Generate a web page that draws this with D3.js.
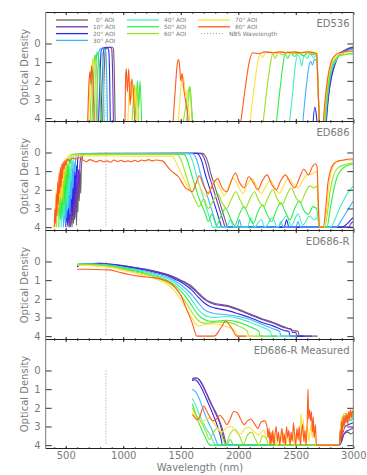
<!DOCTYPE html>
<html>
<head>
<meta charset="utf-8">
<script src="https://cdn.jsdelivr.net/npm/d3@7"></script>
<style>
body { margin: 0; background: #fff; }
text { font-family: "DejaVu Sans", sans-serif; fill: #7a7a7a; }
</style>
</head>
<body>
<script>
var angles = [0, 10, 20, 30, 40, 50, 60, 70, 80];
var colors = ["#666666", "#7a2fbf", "#2b2be6", "#3fb2ff", "#44ecc6", "#2cf044", "#9ee022", "#ffe03c", "#ff5a1e"];
var panelNames = ["ED536", "ED686", "ED686-R", "ED686-R Measured"];
var xMajor = [500, 1000, 1500, 2000, 2500, 3000];
var xMinor = d3.range(400, 3001, 100);
var yTicks = [0, 1, 2, 3, 4];
var nbsWavelength = 850;

// [wavelength nm, optical density]; null = gap
var ed536 = [
  [[820,4.3],[832,2.0],[842,0.5],[852,0.22],[905,0.2],[915,0.3],[922,1.4],[930,4.3],null,
   [2765,4.3],[2778,3.3],[2792,2.5],[2808,1.9],[2830,1.35],[2858,0.85],[2886,0.55],[2915,0.4],[2945,0.3],[2975,0.22],[3000,0.18]],
  [[805,4.3],[817,2.0],[827,0.5],[837,0.22],[890,0.2],[900,0.32],[907,1.4],[915,4.3],null,
   [2762,4.3],[2775,3.3],[2790,2.5],[2806,1.9],[2828,1.35],[2856,0.85],[2884,0.55],[2915,0.42],[2945,0.32],[2975,0.25],[3000,0.2]],
  [[785,4.3],[797,2.0],[807,0.5],[817,0.25],[865,0.24],[874,0.4],[881,1.5],[888,4.3],null,
   [2650,4.3],[2665,3.4],[2678,3.8],[2686,4.3],null,
   [2760,4.3],[2773,3.3],[2788,2.5],[2804,1.9],[2826,1.3],[2854,0.85],[2882,0.55],[2912,0.42],[2945,0.35],[2975,0.28],[3000,0.25]],
  [[765,4.3],[777,2.0],[787,0.55],[797,0.3],[840,0.3],[849,0.5],[856,1.7],[864,4.3],null,
   [2560,4.3],[2588,2.5],[2612,1.3],[2628,0.95],[2645,1.15],[2662,0.85],[2682,0.9],[2692,2.2],[2705,4.3],null,
   [2758,4.3],[2772,3.2],[2786,2.4],[2802,1.8],[2825,1.25],[2852,0.85],[2880,0.6],[2910,0.45],[2945,0.38],[2975,0.3],[3000,0.3]],
  [[745,4.3],[757,2.2],[766,0.75],[774,0.45],[781,0.6],[789,0.4],[812,0.45],[821,0.8],[828,2.0],[836,4.3],null,
   [2445,4.3],[2475,2.5],[2500,1.0],[2515,0.6],[2535,0.8],[2552,1.2],[2570,0.65],[2600,0.8],[2625,0.55],[2655,0.75],[2682,0.6],[2692,2.0],[2705,4.3],null,
   [2755,4.3],[2770,3.1],[2785,2.3],[2800,1.4],[2815,0.95],[2835,1.05],[2860,0.8],[2890,0.6],[2920,0.5],[2960,0.42],[3000,0.4]],
  [[728,4.3],[740,2.2],[749,0.9],[756,0.6],[764,0.9],[772,0.55],[785,0.7],[794,1.2],[800,2.5],[806,4.3],null,
   [1100,4.3],[1112,3.1],[1124,2.0],[1134,3.5],[1146,2.0],[1160,4.3],null,
   [1550,4.3],[1568,3.0],[1580,2.3],[1592,3.2],[1605,4.3],null,
   [2330,4.3],[2362,2.5],[2392,1.0],[2408,0.55],[2430,0.8],[2455,0.5],[2490,0.7],[2520,0.5],[2565,0.65],[2610,0.5],[2650,0.6],[2682,0.55],[2692,2.0],[2705,4.3],null,
   [2750,4.3],[2766,3.1],[2782,2.3],[2800,1.6],[2822,1.1],[2850,0.8],[2880,0.65],[2920,0.6],[2960,0.55],[3000,0.55]],
  [[712,4.3],[722,2.4],[730,1.3],[738,0.8],[746,1.2],[754,0.75],[764,1.0],[772,1.8],[778,4.3],null,
   [1075,4.3],[1088,3.0],[1100,2.2],[1110,3.4],[1122,2.3],[1132,4.3],null,
   [1520,4.3],[1545,3.3],[1560,2.7],[1575,2.35],[1588,3.0],[1600,4.3],null,
   [2215,4.3],[2248,2.5],[2282,1.0],[2298,0.55],[2322,0.8],[2345,0.5],[2390,0.6],[2430,0.45],[2480,0.55],[2540,0.5],[2600,0.5],[2650,0.55],[2682,0.5],[2692,2.0],[2705,4.3],null,
   [2748,4.3],[2764,3.0],[2780,2.2],[2798,1.5],[2820,1.05],[2850,0.8],[2880,0.65],[2920,0.6],[2960,0.58],[3000,0.55]],
  [[700,4.3],[708,2.5],[716,1.5],[724,1.2],[732,1.6],[740,0.9],[748,1.3],[756,2.2],[762,4.3],null,
   [1040,4.3],[1050,2.8],[1062,2.0],[1072,3.0],[1085,2.2],[1098,3.5],[1108,2.4],[1118,4.3],null,
   [1478,4.3],[1498,2.6],[1512,1.85],[1524,1.8],[1535,2.4],[1546,2.8],[1556,2.5],[1570,3.6],[1582,4.3],null,
   [2100,4.3],[2135,2.5],[2170,1.0],[2190,0.55],[2212,0.75],[2235,0.5],[2280,0.45],[2330,0.55],[2390,0.45],[2450,0.52],[2510,0.45],[2570,0.5],[2630,0.45],[2682,0.5],[2692,2.0],[2705,4.3],null,
   [2742,4.3],[2758,3.0],[2775,2.1],[2795,1.4],[2815,0.95],[2845,0.7],[2880,0.55],[2920,0.5],[2960,0.45],[3000,0.45]],
  [[690,4.3],[698,2.7],[705,1.8],[712,1.5],[719,2.2],[726,1.2],[734,1.7],[741,2.8],[748,4.3],null,
   [1015,4.3],[1022,1.6],[1027,1.35],[1036,2.6],[1048,1.35],[1060,3.3],[1075,1.9],[1090,2.8],[1100,4.3],null,
   [1432,4.3],[1452,2.5],[1468,1.2],[1480,0.85],[1490,1.2],[1500,2.0],[1512,1.6],[1525,2.4],[1540,3.0],[1555,3.6],[1568,4.3],null,
   [2020,4.3],[2058,2.5],[2095,1.0],[2125,0.5],[2180,0.55],[2230,0.45],[2300,0.5],[2360,0.45],[2420,0.5],[2480,0.45],[2540,0.5],[2600,0.45],[2660,0.5],[2682,0.55],[2692,2.0],[2705,4.3],null,
   [2738,4.3],[2755,3.0],[2772,2.1],[2792,1.35],[2812,0.9],[2840,0.65],[2875,0.5],[2920,0.45],[2960,0.4],[3000,0.4]]
];

var ed686 = [
  [[540,4],[548,3.4],[555,4],[562,2.9],[568,3.8],[575,2.4],[581,3.5],[588,2.0],[594,3.9],[600,1.8],[606,3.2],[612,1.4],[618,2.6],[624,1.0],[630,2.2],[636,0.8],[642,0.4],[650,0.15],[665,0.06],[800,0.05],[1200,0.05],[1690,0.05],[1710,0.15],[1735,0.5],[1760,1.1],[1790,1.7],[1820,2.3],[1850,2.9],[1875,3.4],[1895,3.8],[1905,4],[3000,4]],
  [[520,4],[528,3.2],[535,4],[542,2.7],[549,3.7],[556,2.2],[563,3.4],[570,1.8],[576,3.6],[583,1.5],[590,3.0],[597,1.2],[604,2.4],[611,0.9],[618,1.8],[624,0.6],[630,0.3],[640,0.1],[660,0.06],[1670,0.05],[1690,0.15],[1715,0.5],[1740,1.1],[1770,1.7],[1800,2.3],[1830,2.9],[1855,3.4],[1875,3.8],[1885,4],[2960,4],[2980,3.8],[3000,3.7]],
  [[500,4],[508,3.0],[515,3.9],[522,2.5],[529,3.6],[536,2.0],[543,3.2],[550,1.6],[557,3.4],[564,1.3],[571,2.8],[578,1.0],[585,2.2],[592,0.7],[598,1.4],[604,0.4],[612,0.15],[630,0.07],[1640,0.05],[1660,0.15],[1685,0.5],[1710,1.1],[1740,1.7],[1770,2.3],[1800,2.9],[1825,3.4],[1845,3.8],[1855,4],[2400,4],[2420,3.6],[2440,4],[2900,4],[2950,3.8],[2980,3.6],[3000,3.5]],
  [[480,4],[488,2.8],[495,3.8],[502,2.3],[509,3.5],[516,1.8],[523,3.0],[530,1.4],[537,3.3],[544,1.1],[551,2.5],[558,0.8],[565,1.9],[572,0.5],[580,1.0],[588,0.25],[600,0.1],[620,0.07],[1600,0.06],[1620,0.15],[1645,0.5],[1670,1.1],[1700,1.7],[1730,2.3],[1760,2.9],[1785,3.4],[1805,3.8],[1815,4],[1990,4],[2010,3.6],[2030,4],[2350,4],[2370,3.7],[2390,4],[2500,4],[2520,3.7],[2540,4],[2850,4],[2900,3.6],[2950,3.1],[3000,2.6]],
  [[460,4],[468,2.6],[475,3.7],[482,2.1],[489,3.4],[496,1.6],[503,2.9],[510,1.2],[517,3.1],[524,0.9],[531,2.3],[538,0.7],[545,1.6],[552,0.4],[560,0.8],[568,0.2],[580,0.09],[600,0.08],[1560,0.07],[1580,0.15],[1605,0.5],[1630,1.1],[1660,1.7],[1690,2.3],[1720,2.9],[1745,3.4],[1765,3.8],[1775,4],[1900,4],[1930,3.6],[1960,4],[2080,4],[2110,3.5],[2140,4],[2200,3.6],[2230,4],[2300,3.5],[2340,4],[2420,3.4],[2460,3.9],[2520,3.3],[2560,3.9],[2620,3.4],[2660,3.6],[2690,3.5],[2705,4],[2800,4],[2840,3.6],[2880,3.0],[2920,2.5],[2960,2.1],[3000,1.8]],
  [[440,4],[448,2.4],[455,3.6],[462,1.9],[469,3.3],[476,1.4],[483,2.8],[490,1.0],[497,2.9],[504,0.8],[511,2.0],[518,0.6],[525,1.4],[532,0.35],[540,0.6],[548,0.2],[560,0.1],[580,0.1],[1520,0.09],[1540,0.18],[1565,0.55],[1590,1.1],[1620,1.7],[1650,2.3],[1680,2.8],[1710,3.2],[1740,3.7],[1770,3.3],[1810,3.9],[1850,3.4],[1890,3.0],[1930,3.5],[1970,3.9],[2010,3.3],[2050,2.9],[2090,3.4],[2130,3.8],[2170,3.2],[2210,2.8],[2250,3.3],[2290,3.7],[2330,3.1],[2370,2.7],[2410,3.2],[2450,3.6],[2490,3.0],[2530,2.6],[2570,3.1],[2610,3.3],[2650,2.9],[2680,3.0],[2692,3.4],[2705,4],[2770,4],[2800,3.0],[2830,2.0],[2860,1.3],[2900,0.9],[2950,0.7],[3000,0.6]],
  [[420,4],[428,2.2],[435,3.5],[442,1.7],[449,3.1],[456,1.2],[463,2.6],[470,0.9],[477,2.7],[484,0.7],[491,1.8],[498,0.5],[505,1.2],[512,0.3],[520,0.5],[530,0.2],[545,0.12],[600,0.1],[1000,0.1],[1470,0.12],[1490,0.25],[1515,0.6],[1540,1.1],[1570,1.7],[1600,2.2],[1630,2.6],[1660,2.9],[1700,2.5],[1740,3.0],[1780,2.6],[1820,2.2],[1860,2.7],[1900,3.0],[1940,2.5],[1980,2.1],[2020,2.6],[2060,3.0],[2100,2.5],[2140,2.1],[2180,2.6],[2220,2.9],[2260,2.4],[2300,2.0],[2340,2.5],[2380,2.8],[2420,2.3],[2460,1.9],[2500,2.4],[2540,2.7],[2580,2.2],[2620,1.8],[2660,1.9],[2685,1.8],[2695,3.0],[2705,4],[2750,4],[2780,3.0],[2800,2.0],[2830,1.2],[2870,0.8],[2930,0.65],[3000,0.55]],
  [[410,4],[418,2.0],[425,3.3],[432,1.5],[439,2.9],[446,1.0],[453,2.4],[460,0.8],[467,2.5],[474,0.6],[481,1.5],[488,0.45],[495,1.0],[502,0.3],[510,0.45],[520,0.22],[540,0.18],[800,0.18],[1100,0.2],[1420,0.2],[1440,0.3],[1465,0.6],[1495,1.0],[1525,1.4],[1560,1.8],[1600,2.1],[1640,1.6],[1680,2.0],[1720,2.35],[1760,1.9],[1800,1.5],[1840,1.9],[1880,2.3],[1920,1.8],[1960,1.4],[2000,1.8],[2040,2.2],[2080,1.7],[2120,1.4],[2160,1.8],[2200,2.2],[2240,1.8],[2280,1.5],[2320,1.9],[2360,2.2],[2400,1.7],[2440,1.4],[2480,1.7],[2520,1.9],[2560,1.5],[2600,1.2],[2640,1.15],[2670,1.05],[2685,1.0],[2695,2.5],[2705,4],[2745,4],[2770,3.0],[2790,1.7],[2810,1.0],[2840,0.6],[2880,0.45],[2940,0.4],[3000,0.4]],
  [[400,4],[406,3.0],[412,3.8],[418,2.2],[424,3.4],[430,1.6],[436,2.8],[442,1.1],[448,2.2],[454,0.8],[460,1.9],[466,0.6],[472,1.4],[478,0.5],[486,0.9],[494,0.4],[502,0.7],[512,0.35],[530,0.45],[560,0.3],[590,0.35],[620,0.28],[650,0.4],[680,0.5],[710,0.38],[740,0.45],[770,0.5],[800,0.42],[830,0.5],[860,0.45],[890,0.52],[920,0.4],[950,0.48],[980,0.42],[1010,0.5],[1040,0.45],[1070,0.5],[1100,0.42],[1130,0.48],[1160,0.4],[1190,0.45],[1220,0.38],[1250,0.45],[1280,0.4],[1310,0.42],[1340,0.45],[1360,0.55],[1390,0.8],[1420,1.0],[1450,1.15],[1480,1.3],[1510,1.6],[1540,1.9],[1570,2.0],[1600,2.1],[1630,1.7],[1660,1.25],[1700,1.8],[1740,2.2],[1780,1.7],[1820,1.4],[1860,1.9],[1900,2.1],[1940,1.5],[1975,1.1],[2010,1.6],[2050,1.9],[2090,1.3],[2130,1.6],[2170,2.0],[2210,1.5],[2250,1.2],[2290,1.7],[2330,2.0],[2370,1.5],[2410,1.2],[2450,1.6],[2490,1.9],[2530,1.4],[2570,0.9],[2610,1.2],[2645,0.75],[2670,0.6],[2685,0.75],[2695,2.5],[2705,4],[2740,4],[2760,3.0],[2780,1.6],[2800,1.0],[2830,0.6],[2870,0.45],[2920,0.4],[2970,0.35],[3000,0.35]]
];

var ed686r = [
  [[601,0.28],[620,0.15],[700,0.12],[800,0.1],[900,0.15],[1000,0.22],[1100,0.32],[1200,0.42],[1300,0.55],[1400,0.72],[1450,0.85],[1500,1.0],[1550,1.15],[1600,1.35],[1650,1.65],[1700,1.95],[1750,2.15],[1800,2.25],[1900,2.35],[2000,2.55],[2100,2.8],[2200,3.05],[2300,3.25],[2400,3.5],[2480,3.7],[2520,3.75],[2530,4],[2690,4]],
  [[601,0.25],[620,0.15],[700,0.12],[800,0.1],[900,0.15],[1000,0.23],[1100,0.33],[1200,0.43],[1300,0.57],[1400,0.75],[1450,0.88],[1500,1.03],[1550,1.2],[1600,1.42],[1650,1.72],[1700,2.0],[1750,2.2],[1800,2.3],[1900,2.4],[2000,2.6],[2100,2.85],[2200,3.1],[2300,3.3],[2400,3.55],[2460,3.62],[2470,3.8],[2500,3.8],[2510,4],[2640,4]],
  [[601,0.3],[620,0.18],[700,0.14],[800,0.13],[900,0.18],[1000,0.26],[1100,0.36],[1200,0.47],[1300,0.62],[1400,0.8],[1450,0.95],[1500,1.1],[1550,1.3],[1600,1.55],[1650,1.9],[1700,2.2],[1750,2.4],[1800,2.5],[1900,2.62],[2000,2.8],[2100,3.0],[2200,3.25],[2300,3.45],[2400,3.7],[2440,3.75],[2450,4],[2570,4]],
  [[601,0.2],[620,0.15],[700,0.14],[800,0.15],[900,0.2],[1000,0.3],[1100,0.4],[1200,0.52],[1300,0.68],[1400,0.88],[1450,1.05],[1500,1.25],[1550,1.5],[1600,1.8],[1650,2.2],[1700,2.55],[1750,2.72],[1800,2.8],[1900,2.85],[2000,2.95],[2100,3.1],[2200,3.35],[2300,3.6],[2360,3.75],[2370,4],[2510,4]],
  [[601,0.15],[620,0.13],[700,0.14],[800,0.16],[900,0.22],[1000,0.33],[1100,0.45],[1200,0.58],[1300,0.75],[1400,0.97],[1450,1.15],[1500,1.4],[1550,1.7],[1600,2.1],[1650,2.55],[1700,2.85],[1750,2.97],[1800,3.0],[1900,2.95],[2000,3.05],[2100,3.25],[2200,3.5],[2280,3.75],[2290,4],[2450,4]],
  [[601,0.15],[620,0.14],[700,0.16],[800,0.18],[900,0.25],[1000,0.37],[1100,0.5],[1200,0.64],[1300,0.82],[1400,1.07],[1450,1.28],[1500,1.58],[1550,1.95],[1600,2.4],[1650,2.85],[1700,3.1],[1750,3.2],[1800,3.2],[1900,3.15],[2000,3.25],[2100,3.5],[2180,3.75],[2190,4],[2335,4]],
  [[601,0.17],[620,0.16],[700,0.18],[800,0.22],[900,0.28],[1000,0.42],[1100,0.56],[1200,0.7],[1300,0.9],[1400,1.18],[1450,1.42],[1500,1.8],[1550,2.25],[1600,2.75],[1650,3.15],[1700,3.3],[1750,3.3],[1800,3.25],[1900,3.25],[2000,3.45],[2080,3.75],[2090,4],[2220,4]],
  [[601,0.22],[620,0.2],[700,0.22],[800,0.27],[900,0.33],[1000,0.48],[1100,0.62],[1200,0.76],[1300,0.98],[1400,1.3],[1450,1.6],[1500,2.05],[1550,2.55],[1600,3.05],[1650,3.45],[1700,3.4],[1750,3.35],[1800,3.35],[1900,3.5],[1980,3.75],[1990,4],[2135,4]],
  [[601,0.42],[700,0.42],[800,0.44],[880,0.45],[950,0.55],[1050,0.7],[1150,0.8],[1250,0.86],[1330,0.95],[1400,1.1],[1450,1.38],[1500,1.8],[1550,2.55],[1600,3.3],[1640,4],[1790,4],[1850,3.55],[1890,3.2],[1940,3.55],[1990,4],[2070,4]]
];

var ed686rMeasured = [
  [[1600,0.5],[1615,0.42],[1640,0.4],[1660,0.48],[1690,0.75],[1720,1.15],[1750,1.55],[1780,1.95],[1810,2.3],[1840,2.75],[1865,3.2],[1885,3.7],[1900,4],[2880,4],[2900,3.8],[2920,3.4],[2950,3.3],[2980,3.4],[3000,3.3]],
  [[1600,0.48],[1615,0.4],[1640,0.4],[1660,0.5],[1690,0.8],[1720,1.2],[1750,1.62],[1780,2.0],[1810,2.4],[1840,2.85],[1860,3.3],[1880,3.8],[1890,4],[2880,4],[2905,3.6],[2930,3.3],[2960,3.2],[3000,3.1]],
  [[1600,0.55],[1620,0.5],[1640,0.55],[1670,0.82],[1700,1.2],[1730,1.62],[1760,2.05],[1790,2.5],[1820,3.0],[1845,3.5],[1865,4],[2880,4],[2905,3.4],[2930,3.0],[2960,2.9],[3000,2.8]],
  [[1600,1.0],[1630,1.15],[1660,1.5],[1690,2.0],[1720,2.5],[1750,2.9],[1780,3.3],[1810,3.8],[1825,4],[2880,4],[2900,3.2],[2930,2.8],[2960,2.7],[3000,2.6]],
  [[1600,1.5],[1630,1.85],[1660,2.35],[1690,2.75],[1720,3.1],[1760,3.5],[1790,3.9],[1800,4],[2880,4],[2895,3.0],[2920,2.6],[2950,2.5],[2980,2.7],[3000,2.4]],
  [[1600,1.78],[1630,2.3],[1660,2.85],[1700,3.4],[1740,3.9],[1755,4],[1900,4],[1930,3.7],[1960,4],[2880,4],[2890,3.0],[2910,2.5],[2940,2.4],[2970,2.6],[3000,2.3]],
  [[1600,2.0],[1630,2.35],[1660,2.6],[1690,2.9],[1720,3.3],[1750,3.7],[1780,3.35],[1820,3.1],[1860,3.55],[1890,3.95],[1930,3.4],[1970,3.15],[2010,3.5],[2045,3.95],[2080,3.45],[2115,3.3],[2150,3.7],[2180,4],[2210,3.5],[2240,3.6],[2265,4],[2300,3.6],[2320,4],[2880,4],[2890,3.2],[2905,2.6],[2925,2.3],[2950,2.4],[2975,2.2],[3000,2.2]],
  [[1600,2.2],[1630,2.5],[1660,2.8],[1690,2.75],[1720,2.6],[1750,2.55],[1780,2.75],[1820,3.1],[1860,3.3],[1900,3.05],[1940,3.0],[1980,3.3],[2020,3.4],[2060,3.1],[2100,3.05],[2140,3.3],[2180,3.45],[2220,3.2],[2250,3.6],[2270,3.3],[2290,3.9],[2310,3.4],[2330,4],[2350,3.5],[2370,3.8],[2390,3.3],[2410,4],[2430,3.6],[2450,3.9],[2470,3.4],[2490,4],[2510,3.2],[2530,3.8],[2545,2.3],[2555,3.5],[2565,2.6],[2580,3.9],[2600,3.0],[2615,3.8],[2630,2.9],[2645,3.6],[2660,3.1],[2675,4],[2880,4],[2890,3.0],[2900,2.5],[2915,3.2],[2930,2.3],[2945,2.8],[2960,2.2],[2975,2.6],[2990,2.1],[3000,2.2]],
  [[1600,2.35],[1620,2.5],[1640,2.65],[1660,2.55],[1680,2.2],[1700,1.9],[1720,2.1],[1750,2.45],[1780,2.7],[1810,2.6],[1840,2.4],[1870,2.6],[1900,2.9],[1930,2.6],[1960,2.2],[1990,2.25],[2020,2.6],[2050,2.9],[2080,2.7],[2110,2.6],[2140,2.85],[2170,3.1],[2200,2.75],[2230,2.7],[2250,3.0],[2260,3.6],[2268,3.1],[2276,4],[2284,3.3],[2292,3.9],[2300,3.2],[2310,4],[2320,3.4],[2330,3.0],[2340,3.8],[2350,3.3],[2360,4],[2370,3.5],[2380,3.1],[2390,3.9],[2400,3.4],[2410,4],[2420,3.0],[2430,3.6],[2440,3.2],[2450,4],[2460,3.3],[2470,3.8],[2480,2.8],[2490,3.5],[2500,4],[2510,3.1],[2520,3.7],[2530,3.0],[2540,4],[2550,3.3],[2560,2.9],[2570,3.8],[2580,3.2],[2590,4],[2600,2.6],[2606,1.0],[2612,2.6],[2620,2.1],[2628,2.7],[2636,2.2],[2644,3.3],[2652,2.5],[2660,3.6],[2670,2.9],[2680,4],[2880,4],[2886,3.2],[2892,3.8],[2898,2.7],[2904,3.5],[2912,2.5],[2920,3.0],[2928,2.4],[2936,2.8],[2944,2.3],[2952,2.9],[2960,2.2],[2968,2.6],[2976,2.1],[2984,2.5],[2992,2.2],[3000,2.3]]
];

var width = 367, height = 475;
var plotLeft = 45.7, plotRight = 353.3, plotTop = 12.5, panelH = 109;

var svg = d3.select("body").append("svg")
    .attr("width", width)
    .attr("height", height);

var x = d3.scaleLinear()
    .domain([326, 3000])
    .range([plotLeft, plotRight]);

var panels = [ed536, ed686, ed686r, ed686rMeasured];

panels.forEach(function(series, p) {
  var top = plotTop + p * panelH;
  var y = d3.scaleLinear()
      .domain([-1.66, 4.18])
      .range([top, top + panelH]);

  svg.append("clipPath").attr("id", "clip" + p)
    .append("rect")
      .attr("x", plotLeft).attr("y", top)
      .attr("width", plotRight - plotLeft).attr("height", panelH);

  var g = svg.append("g").attr("clip-path", "url(#clip" + p + ")");

  g.append("line")
    .attr("x1", x(nbsWavelength)).attr("x2", x(nbsWavelength))
    .attr("y1", y(0)).attr("y2", y(4))
    .attr("stroke", "#999")
    .attr("stroke-dasharray", "1,2");

  var line = d3.line()
    .defined(function(d) { return d; })
    .curve(d3.curveMonotoneX)
    .x(function(d) { return x(d[0]); })
    .y(function(d) { return y(d[1]); });

  series.forEach(function(s, i) {
    g.append("path")
      .datum(s)
      .attr("d", line)
      .attr("fill", "none")
      .attr("stroke", colors[i])
      .attr("stroke-width", 1.1)
      .attr("stroke-linejoin", "round");
  });

  // axes, ticks inward like IDL
  var left = svg.append("g")
    .attr("transform", "translate(" + plotLeft + ",0)")
    .call(d3.axisLeft(y).tickValues(yTicks).tickSizeInner(-6).tickSizeOuter(0).tickPadding(5)
      .tickFormat(d3.format("d")));
  var right = svg.append("g")
    .attr("transform", "translate(" + plotRight + ",0)")
    .call(d3.axisRight(y).tickValues(yTicks).tickSizeInner(-6).tickSizeOuter(0).tickFormat(""));
  [left, right].forEach(function(a) { a.select(".domain").remove(); });

  var bottomMinor = svg.append("g")
    .attr("transform", "translate(0," + (top + panelH) + ")")
    .call(d3.axisBottom(x).tickValues(xMinor).tickSizeInner(-1.3).tickSizeOuter(0).tickFormat(""));
  var bottomMajor = svg.append("g")
    .attr("transform", "translate(0," + (top + panelH) + ")")
    .call(d3.axisBottom(x).tickValues(xMajor).tickSizeInner(-2.6).tickSizeOuter(0).tickPadding(3)
      .tickFormat(p == 3 ? d3.format("d") : ""));
  var topMinor = svg.append("g")
    .attr("transform", "translate(0," + top + ")")
    .call(d3.axisTop(x).tickValues(xMinor).tickSizeInner(-1.3).tickSizeOuter(0).tickFormat(""));
  var topMajor = svg.append("g")
    .attr("transform", "translate(0," + top + ")")
    .call(d3.axisTop(x).tickValues(xMajor).tickSizeInner(-2.6).tickSizeOuter(0).tickFormat(""));
  [bottomMinor, bottomMajor, topMinor, topMajor].forEach(function(a) { a.select(".domain").remove(); });

  svg.selectAll(".tick line").attr("stroke", "#333");
  svg.selectAll(".tick text").attr("font-size", 10).attr("fill", "#7a7a7a")
    .attr("font-family", "DejaVu Sans, sans-serif");

  // frame: horizontals dark, verticals grey
  [top, top + panelH].forEach(function(yy) {
    svg.append("line")
      .attr("x1", plotLeft).attr("x2", plotRight)
      .attr("y1", yy).attr("y2", yy)
      .attr("stroke", "#222");
  });
  [plotLeft, plotRight].forEach(function(xx) {
    svg.append("line")
      .attr("x1", xx).attr("x2", xx)
      .attr("y1", top).attr("y2", top + panelH)
      .attr("stroke", "#777");
  });

  svg.append("text")
    .attr("x", 349.5).attr("y", top + 14)
    .attr("text-anchor", "end")
    .attr("font-size", 10)
    .text(panelNames[p]);

  svg.append("text")
    .attr("transform", "translate(28," + (top + panelH / 2) + ") rotate(-90)")
    .attr("text-anchor", "middle")
    .attr("font-size", 10)
    .text("Optical Density");
});

svg.append("text")
  .attr("x", 200).attr("y", 470.6)
  .attr("text-anchor", "middle")
  .attr("font-size", 10)
  .text("Wavelength (nm)");

// legend
var legendCols = [56, 127, 198];
angles.forEach(function(a, i) {
  var col = i < 4 ? 0 : (i < 7 ? 1 : 2);
  var row = i < 4 ? i : (i < 7 ? i - 4 : i - 7);
  var ly = 20 + row * 6.8;
  svg.append("line")
    .attr("x1", legendCols[col]).attr("x2", legendCols[col] + 32)
    .attr("y1", ly).attr("y2", ly)
    .attr("stroke", colors[i]).attr("stroke-width", 1.3);
  svg.append("text")
    .attr("x", legendCols[col] + 37 + (a < 10 ? 3 : 0)).attr("y", ly + 2.2)
    .attr("font-size", 5.8)
    .attr("font-family", "Liberation Sans, sans-serif")
    .text(a + "\u00b0 AOI");
});
svg.append("line")
  .attr("x1", 201).attr("x2", 223)
  .attr("y1", 20 + 2 * 6.8).attr("y2", 20 + 2 * 6.8)
  .attr("stroke", "#999").attr("stroke-dasharray", "1,2");
svg.append("text")
  .attr("x", 229).attr("y", 20 + 2 * 6.8 + 2.2)
  .attr("font-size", 5.8)
  .attr("font-family", "Liberation Sans, sans-serif")
  .text("NBS Wavelength");
</script>
</body>
</html>
